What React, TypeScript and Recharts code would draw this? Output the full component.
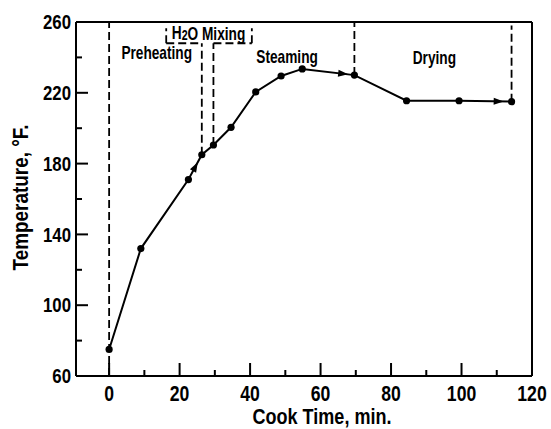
import React from 'react';
import { LineChart, Line, XAxis, YAxis, ReferenceLine, ReferenceDot } from 'recharts';

// measured cook curve
const cookTime = [0, 9, 22.5, 26.3, 29.6, 34.6, 41.6, 48.8, 54.8, 69.6, 84.4, 99.3, 114.2];
const temperature = [75, 132, 171, 185, 190.5, 200.5, 220.5, 229.5, 233.5, 230, 215.5, 215.5, 215];

// arrowheads sit on the segment ending at these points, at this fraction along it
const arrowPoints = [3, 9, 12];
const arrowFraction = [0.7, 0.88, 0.85];

const xTicks = [0, 10, 20, 30, 40, 50, 60, 70, 80, 90, 100, 110, 120];
const xLabels = ['0', '', '20', '', '40', '', '60', '', '80', '', '100', '', '120'];
const yTicks = [60, 80, 100, 120, 140, 160, 180, 200, 220, 240, 260];
const yLabels = ['60', '', '100', '', '140', '', '180', '', '220', '', '260'];

// dashed phase boundaries [x1, y1, x2, y2]
const phaseLines = [
  [0, 60, 0, 260],
  [26.3, 185, 26.3, 248],
  [16.2, 248, 26.3, 248],
  [16.2, 248, 16.2, 256.5],
  [29.6, 190.5, 29.6, 248],
  [29.6, 248, 40.5, 248],
  [40.5, 248, 40.5, 256.5],
  [69.6, 230, 69.6, 260],
  [114.2, 215, 114.2, 258],
];

const phaseNames = ['Preheating', 'Steaming', 'Drying'];
const phaseX = [13.5, 50.5, 92.3];
const phaseY = [242.5, 240.5, 240];
const mixX = 28.2;
const mixY = 253.8;

const data = cookTime.map((t, i) => ({ time: t, temp: temperature[i] }));

const FONT = "'Liberation Sans', Arial, sans-serif";
const NARROW = 0.78; // the original type is a condensed grotesque

// text squeezed horizontally around its anchor point
const Narrow = ({ x, y, size, anchor = 'middle', sx = NARROW, rotate = 0, children }: any) => (
  <g transform={`translate(${x},${y}) rotate(${rotate}) scale(${sx},1)`}>
    <text x={0} y={0} textAnchor={anchor} dominantBaseline="central" fontSize={size} fontWeight="bold" fill="#000">
      {children}
    </text>
  </g>
);

const XTick = (props: any) => {
  const { x, y, index } = props;
  const label = xLabels[index];
  return (
    <g>
      <line x1={x} y1={y} x2={x} y2={y - (label ? 13 : 6)} stroke="#000" strokeWidth={2} />
      {label && <Narrow x={x} y={y + 17} size={22} sx={0.8}>{label}</Narrow>}
    </g>
  );
};

const YTick = (props: any) => {
  const { x, y, index } = props;
  const label = yLabels[index];
  return (
    <g>
      <line x1={x} y1={y} x2={x + (label ? 12 : 6)} y2={y} stroke="#000" strokeWidth={2} />
      {label && <Narrow x={x - 5} y={y} size={21} sx={0.8} anchor="end">{label}</Narrow>}
    </g>
  );
};

const CurveDot = (props: any) => {
  const { cx, cy, index, points } = props;
  const k = arrowPoints.indexOf(index);
  let arrow = null;
  if (k >= 0 && points && points[index - 1]) {
    const p0 = points[index - 1];
    const t = arrowFraction[k];
    const ax = p0.x + (cx - p0.x) * t;
    const ay = p0.y + (cy - p0.y) * t;
    const ang = (Math.atan2(cy - p0.y, cx - p0.x) * 180) / Math.PI;
    arrow = <polygon points="0,0 -10,-3.5 -10,3.5" fill="#000" transform={`translate(${ax},${ay}) rotate(${ang})`} />;
  }
  return (
    <g key={`dot-${index}`}>
      <circle cx={cx} cy={cy} r={3.6} fill="#000" />
      {arrow}
    </g>
  );
};

const centerOf = (vb: any) => ({ cx: vb.x + vb.width / 2, cy: vb.y + vb.height / 2 });

const PhaseLabel = (props: any) => {
  const { cx, cy } = centerOf(props.viewBox);
  return <Narrow x={cx} y={cy} size={18} sx={0.76}>{props.text}</Narrow>;
};

const MixLabel = (props: any) => {
  const { cx, cy } = centerOf(props.viewBox);
  return (
    <Narrow x={cx} y={cy} size={18} sx={0.76}>
      H<tspan fontSize={14} dy={3}>2</tspan>
      <tspan dy={-3}>O Mixing</tspan>
    </Narrow>
  );
};

const XTitle = (props: any) => {
  const vb = props.viewBox;
  return <Narrow x={vb.x + vb.width / 2 + 18} y={vb.y + vb.height - 13} size={22} sx={0.82}>Cook Time, min.</Narrow>;
};

const YTitle = (props: any) => {
  const vb = props.viewBox;
  return <Narrow x={vb.x + 20} y={vb.y + vb.height / 2 - 1.5} size={22} sx={0.86} rotate={-90}>Temperature, °F.</Narrow>;
};

export default function App() {
  return (
    <div style={{ position: 'absolute', left: 0, top: 0, width: 551, height: 429, background: '#fff', fontFamily: FONT }}>
      <LineChart width={551} height={429} data={data} margin={{ top: 22, right: 19, bottom: 0, left: 0 }}>
        <XAxis
          dataKey="time"
          type="number"
          domain={[-9.4, 120]}
          ticks={xTicks}
          interval={0}
          allowDataOverflow
          height={53}
          tickSize={0}
          tickMargin={0}
          tick={<XTick />}
          axisLine={{ stroke: '#000', strokeWidth: 2 }}
          label={<XTitle />}
        />
        <YAxis
          type="number"
          domain={[60, 260]}
          ticks={yTicks}
          interval={0}
          allowDataOverflow
          width={76}
          tickSize={0}
          tickMargin={0}
          tick={<YTick />}
          axisLine={{ stroke: '#000', strokeWidth: 2 }}
          label={<YTitle />}
        />
        <ReferenceLine y={260} stroke="#000" strokeWidth={2} />
        <ReferenceLine x={120} stroke="#000" strokeWidth={2} />
        {phaseLines.map((s, i) => (
          <ReferenceLine
            key={`ph-${i}`}
            segment={[{ x: s[0], y: s[1] }, { x: s[2], y: s[3] }]}
            stroke="#000"
            strokeWidth={1.8}
            strokeDasharray="8 4"
          />
        ))}
        {phaseNames.map((n, i) => (
          <ReferenceDot
            key={`pn-${i}`}
            x={phaseX[i]}
            y={phaseY[i]}
            r={0}
            fill="none"
            stroke="none"
            label={<PhaseLabel text={n} />}
          />
        ))}
        <ReferenceDot x={mixX} y={mixY} r={0} fill="none" stroke="none" label={<MixLabel />} />
        <Line
          dataKey="temp"
          stroke="#000"
          strokeWidth={2}
          dot={<CurveDot />}
          activeDot={false}
          isAnimationActive={false}
        />
      </LineChart>
    </div>
  );
}
